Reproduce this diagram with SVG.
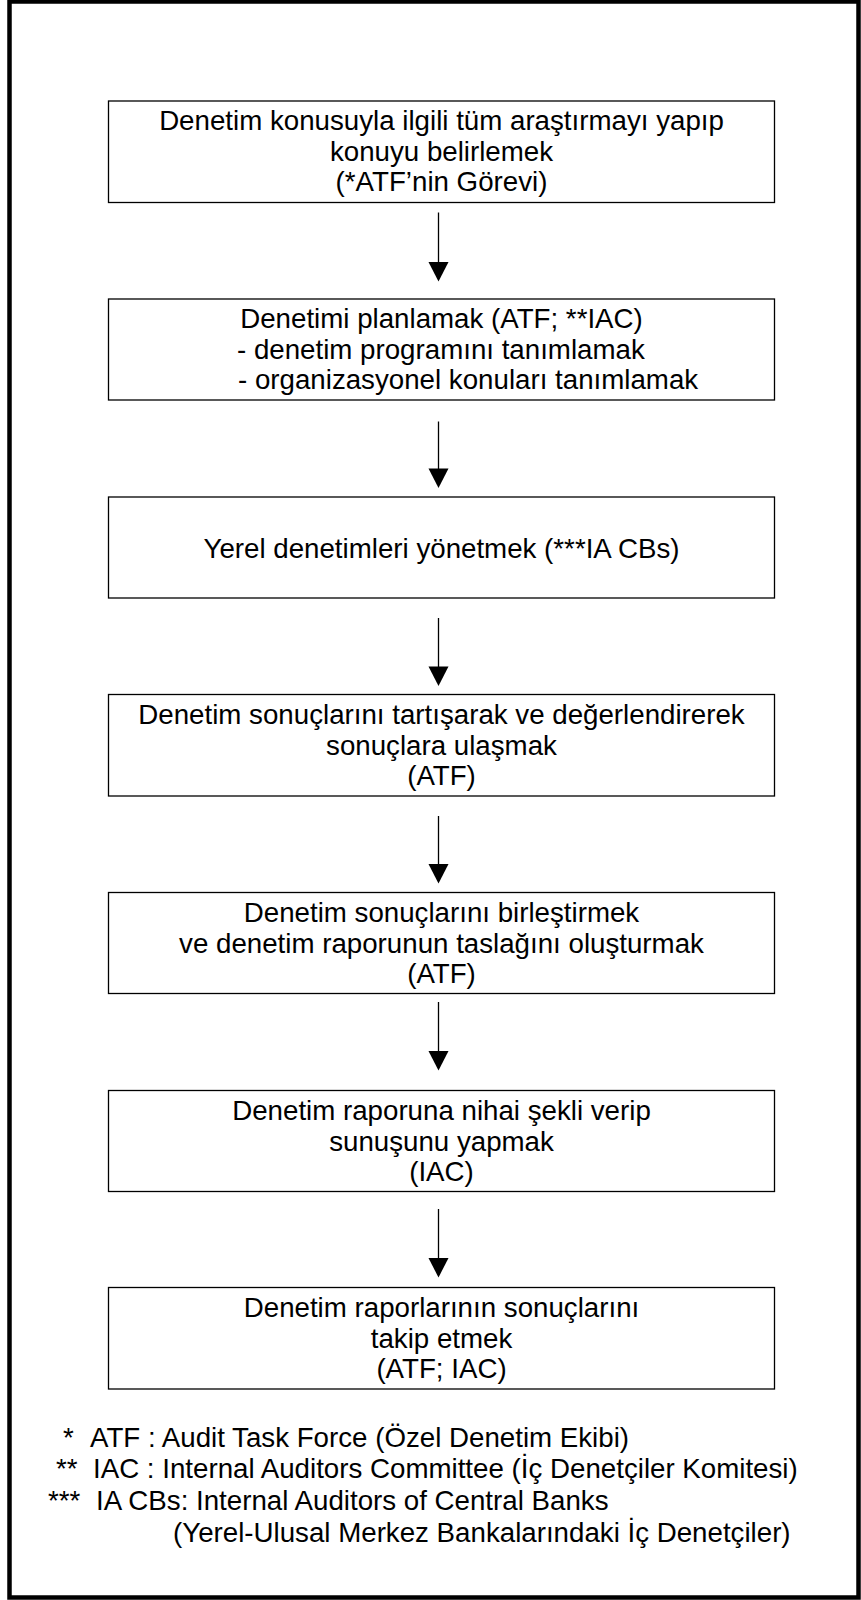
<svg xmlns="http://www.w3.org/2000/svg" width="861" height="1600" viewBox="0 0 861 1600">
  <style>
    .frame { fill: none; stroke: #000; stroke-width: 4.5; }
    .box { fill: #fff; stroke: #000; stroke-width: 1.3; }
    .t { font-family: "Liberation Sans", Arial, sans-serif; font-size: 27.7px; fill: #000; }
    .c { text-anchor: middle; }
    .edge { stroke: #000; stroke-width: 1.3; fill: none; }
    .head { fill: #000; stroke: none; }
  </style>
  <rect width="861" height="1600" fill="#fff"/>
  <!-- page frame -->
  <rect class="frame" x="9.5" y="1.5" width="849" height="1596"/>

  <!-- process steps -->
  <g id="step1">
    <rect class="box" x="108.5" y="101" width="666" height="101.5"/>
    <text class="t c" x="441.5" y="130">Denetim konusuyla ilgili tüm araştırmayı yapıp</text>
    <text class="t c" x="441.5" y="161">konuyu belirlemek</text>
    <text class="t c" x="441.5" y="191">(*ATF’nin Görevi)</text>
  </g>
  <g id="step2">
    <rect class="box" x="108.5" y="299" width="666" height="101"/>
    <text class="t c" x="441.5" y="328">Denetimi planlamak (ATF; **IAC)</text>
    <text class="t" x="237" y="359">- denetim programını tanımlamak</text>
    <text class="t" x="238" y="389">- organizasyonel konuları tanımlamak</text>
  </g>
  <g id="step3">
    <rect class="box" x="108.5" y="497" width="666" height="101"/>
    <text class="t c" x="441.5" y="558">Yerel denetimleri yönetmek (***IA CBs)</text>
  </g>
  <g id="step4">
    <rect class="box" x="108.5" y="694.5" width="666" height="101.5"/>
    <text class="t c" x="441.5" y="723.5">Denetim sonuçlarını tartışarak ve değerlendirerek</text>
    <text class="t c" x="441.5" y="754.5">sonuçlara ulaşmak</text>
    <text class="t c" x="441.5" y="784.5">(ATF)</text>
  </g>
  <g id="step5">
    <rect class="box" x="108.5" y="892.5" width="666" height="101"/>
    <text class="t c" x="441.5" y="921.5">Denetim sonuçlarını birleştirmek</text>
    <text class="t c" x="441.5" y="952.5">ve denetim raporunun taslağını oluşturmak</text>
    <text class="t c" x="441.5" y="982.5">(ATF)</text>
  </g>
  <g id="step6">
    <rect class="box" x="108.5" y="1090.5" width="666" height="101"/>
    <text class="t c" x="441.5" y="1119.5">Denetim raporuna nihai şekli verip</text>
    <text class="t c" x="441.5" y="1150.5">sunuşunu yapmak</text>
    <text class="t c" x="441.5" y="1180.5">(IAC)</text>
  </g>
  <g id="step7">
    <rect class="box" x="108.5" y="1287.5" width="666" height="101.5"/>
    <text class="t c" x="441.5" y="1316.5">Denetim raporlarının sonuçlarını</text>
    <text class="t c" x="441.5" y="1347.5">takip etmek</text>
    <text class="t c" x="441.5" y="1377.5">(ATF; IAC)</text>
  </g>

  <!-- connectors between steps -->
  <g id="connectors">
    <line class="edge" x1="438.5" y1="212.5" x2="438.5" y2="264"/>
    <polygon class="head" points="428.5,262 448.5,262 438.5,281.5"/>
    <line class="edge" x1="438.5" y1="421.5" x2="438.5" y2="471"/>
    <polygon class="head" points="428.5,468.5 448.5,468.5 438.5,488"/>
    <line class="edge" x1="438.5" y1="618" x2="438.5" y2="669"/>
    <polygon class="head" points="428.5,666.5 448.5,666.5 438.5,686"/>
    <line class="edge" x1="438.5" y1="816" x2="438.5" y2="866"/>
    <polygon class="head" points="428.5,864 448.5,864 438.5,883.5"/>
    <line class="edge" x1="438.5" y1="1002" x2="438.5" y2="1053"/>
    <polygon class="head" points="428.5,1051 448.5,1051 438.5,1070.5"/>
    <line class="edge" x1="438.5" y1="1209" x2="438.5" y2="1260"/>
    <polygon class="head" points="428.5,1258 448.5,1258 438.5,1277.5"/>
  </g>

  <!-- abbreviations -->
  <g id="legend">
    <text class="t" x="63" y="1447">*</text>
    <text class="t" x="90" y="1447">ATF : Audit Task Force (Özel Denetim Ekibi)</text>
    <text class="t" x="56" y="1478">**</text>
    <text class="t" x="93" y="1478">IAC  : Internal Auditors Committee (İç Denetçiler Komitesi)</text>
    <text class="t" x="48" y="1510">***</text>
    <text class="t" x="96" y="1510">IA CBs: Internal Auditors of Central Banks</text>
    <text class="t" x="173" y="1542">(Yerel-Ulusal Merkez Bankalarındaki İç Denetçiler)</text>
  </g>
</svg>
